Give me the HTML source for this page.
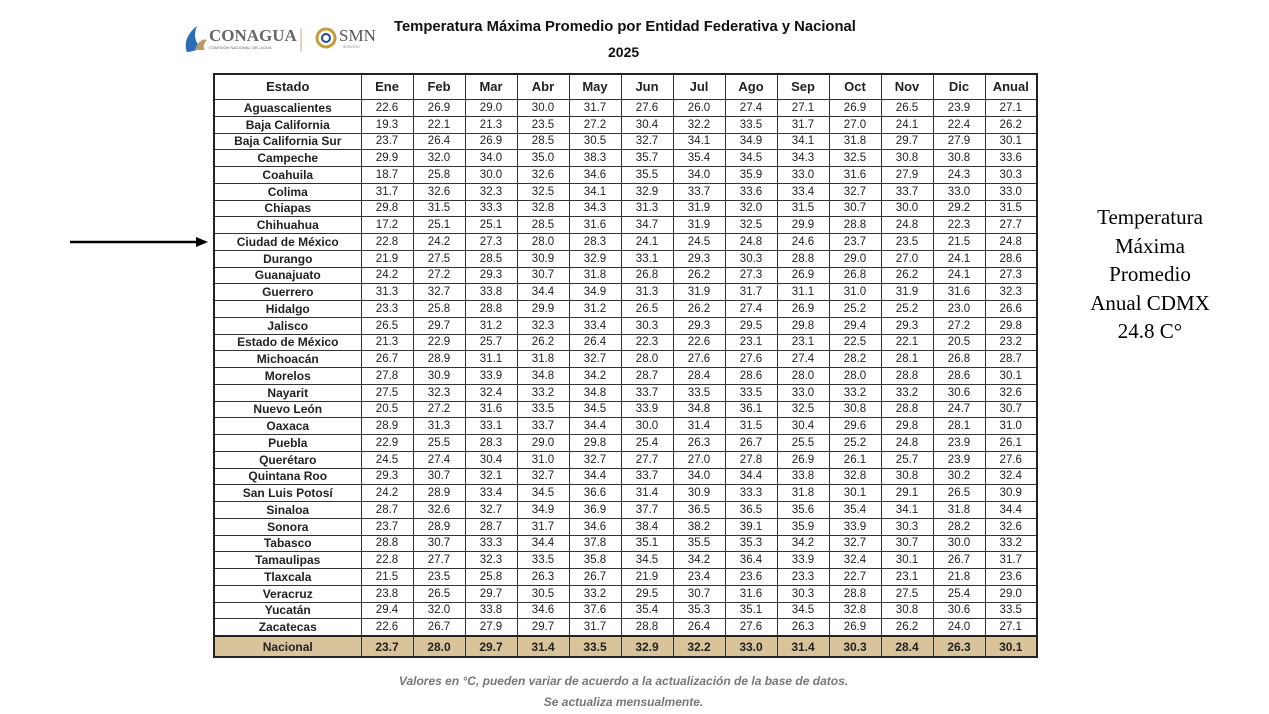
<!DOCTYPE html>
<html><head><meta charset="utf-8"><style>
body{margin:0;width:1269px;height:714px;background:#fff;position:relative;overflow:hidden;font-family:"Liberation Sans",sans-serif;}
table{position:absolute;left:213px;top:73px;width:822px;border-collapse:collapse;border:2px solid #222;table-layout:fixed;}
td,th{border:1px solid #333;padding:0;text-align:center;font-size:11.5px;color:#222;line-height:14px;overflow:hidden;white-space:nowrap}
th{height:24px;font-size:13px;font-weight:bold;}
td{height:15.75px;}
td:first-child{font-weight:bold;font-size:12px;}
tr.n td{background:#d9c39a;font-weight:bold;height:19px;font-size:12px;}
tr.n td,tr.n{border-top:2px solid #222}
.t{position:absolute;left:394px;top:19px;font-weight:bold;font-size:14.8px;color:#111}
.y{position:absolute;left:608px;top:44px;font-weight:bold;font-size:14px;color:#111}
.side{position:absolute;left:1065px;top:203px;width:170px;text-align:center;font-family:"Liberation Serif",serif;font-size:21px;line-height:28.5px;color:#000}
.foot{position:absolute;left:0;width:1247px;text-align:center;font-style:italic;font-weight:bold;font-size:12px;color:#777}
</style></head><body>
<svg style="position:absolute;left:183px;top:24px" width="210" height="32">
<path d="M4 28 C0 18 6 8 14 2 C10 12 12 20 20 24 C14 26 8 28 4 28Z" fill="#2a6fb5"/>
<path d="M12 26 C14 18 20 14 24 16 C20 20 20 24 22 26Z" fill="#b99a6a"/>
<text x="26" y="17" font-family="Liberation Serif" font-size="17" font-weight="bold" fill="#666">CONAGUA</text>
<text x="26" y="25" font-size="4" fill="#666">COMISIÓN NACIONAL DEL AGUA</text>
<line x1="118" y1="4" x2="118" y2="28" stroke="#c9a878" stroke-width="1"/>
<circle cx="143" cy="14" r="9" fill="none" stroke="#c99a3a" stroke-width="3"/>
<circle cx="143" cy="14" r="4" fill="none" stroke="#234a8c" stroke-width="2"/>
<text x="156" y="17" font-family="Liberation Serif" font-size="17" fill="#555">SMN</text>
<text x="160" y="24" font-size="3.5" fill="#888">SERVICIO</text>
</svg>
<div class="t">Temperatura Máxima Promedio por Entidad Federativa y Nacional</div>
<div class="y">2025</div>
<svg style="position:absolute;left:70px;top:236px" width="140" height="12"><line x1="0" y1="6" x2="128" y2="6" stroke="#000" stroke-width="2.5"/><polygon points="138,6 126,1 126,11" fill="#000"/></svg>
<div class="side">Temperatura<br>Máxima<br>Promedio<br>Anual CDMX<br>24.8 C°</div>
<table>
<colgroup><col style="width:147px"><col span="13" style="width:52px"></colgroup>
<tr><th>Estado</th><th>Ene</th><th>Feb</th><th>Mar</th><th>Abr</th><th>May</th><th>Jun</th><th>Jul</th><th>Ago</th><th>Sep</th><th>Oct</th><th>Nov</th><th>Dic</th><th>Anual</th></tr>
<tr><td>Aguascalientes</td><td>22.6</td><td>26.9</td><td>29.0</td><td>30.0</td><td>31.7</td><td>27.6</td><td>26.0</td><td>27.4</td><td>27.1</td><td>26.9</td><td>26.5</td><td>23.9</td><td>27.1</td></tr>
<tr><td>Baja California</td><td>19.3</td><td>22.1</td><td>21.3</td><td>23.5</td><td>27.2</td><td>30.4</td><td>32.2</td><td>33.5</td><td>31.7</td><td>27.0</td><td>24.1</td><td>22.4</td><td>26.2</td></tr>
<tr><td>Baja California Sur</td><td>23.7</td><td>26.4</td><td>26.9</td><td>28.5</td><td>30.5</td><td>32.7</td><td>34.1</td><td>34.9</td><td>34.1</td><td>31.8</td><td>29.7</td><td>27.9</td><td>30.1</td></tr>
<tr><td>Campeche</td><td>29.9</td><td>32.0</td><td>34.0</td><td>35.0</td><td>38.3</td><td>35.7</td><td>35.4</td><td>34.5</td><td>34.3</td><td>32.5</td><td>30.8</td><td>30.8</td><td>33.6</td></tr>
<tr><td>Coahuila</td><td>18.7</td><td>25.8</td><td>30.0</td><td>32.6</td><td>34.6</td><td>35.5</td><td>34.0</td><td>35.9</td><td>33.0</td><td>31.6</td><td>27.9</td><td>24.3</td><td>30.3</td></tr>
<tr><td>Colima</td><td>31.7</td><td>32.6</td><td>32.3</td><td>32.5</td><td>34.1</td><td>32.9</td><td>33.7</td><td>33.6</td><td>33.4</td><td>32.7</td><td>33.7</td><td>33.0</td><td>33.0</td></tr>
<tr><td>Chiapas</td><td>29.8</td><td>31.5</td><td>33.3</td><td>32.8</td><td>34.3</td><td>31.3</td><td>31.9</td><td>32.0</td><td>31.5</td><td>30.7</td><td>30.0</td><td>29.2</td><td>31.5</td></tr>
<tr><td>Chihuahua</td><td>17.2</td><td>25.1</td><td>25.1</td><td>28.5</td><td>31.6</td><td>34.7</td><td>31.9</td><td>32.5</td><td>29.9</td><td>28.8</td><td>24.8</td><td>22.3</td><td>27.7</td></tr>
<tr><td>Ciudad de México</td><td>22.8</td><td>24.2</td><td>27.3</td><td>28.0</td><td>28.3</td><td>24.1</td><td>24.5</td><td>24.8</td><td>24.6</td><td>23.7</td><td>23.5</td><td>21.5</td><td>24.8</td></tr>
<tr><td>Durango</td><td>21.9</td><td>27.5</td><td>28.5</td><td>30.9</td><td>32.9</td><td>33.1</td><td>29.3</td><td>30.3</td><td>28.8</td><td>29.0</td><td>27.0</td><td>24.1</td><td>28.6</td></tr>
<tr><td>Guanajuato</td><td>24.2</td><td>27.2</td><td>29.3</td><td>30.7</td><td>31.8</td><td>26.8</td><td>26.2</td><td>27.3</td><td>26.9</td><td>26.8</td><td>26.2</td><td>24.1</td><td>27.3</td></tr>
<tr><td>Guerrero</td><td>31.3</td><td>32.7</td><td>33.8</td><td>34.4</td><td>34.9</td><td>31.3</td><td>31.9</td><td>31.7</td><td>31.1</td><td>31.0</td><td>31.9</td><td>31.6</td><td>32.3</td></tr>
<tr><td>Hidalgo</td><td>23.3</td><td>25.8</td><td>28.8</td><td>29.9</td><td>31.2</td><td>26.5</td><td>26.2</td><td>27.4</td><td>26.9</td><td>25.2</td><td>25.2</td><td>23.0</td><td>26.6</td></tr>
<tr><td>Jalisco</td><td>26.5</td><td>29.7</td><td>31.2</td><td>32.3</td><td>33.4</td><td>30.3</td><td>29.3</td><td>29.5</td><td>29.8</td><td>29.4</td><td>29.3</td><td>27.2</td><td>29.8</td></tr>
<tr><td>Estado de México</td><td>21.3</td><td>22.9</td><td>25.7</td><td>26.2</td><td>26.4</td><td>22.3</td><td>22.6</td><td>23.1</td><td>23.1</td><td>22.5</td><td>22.1</td><td>20.5</td><td>23.2</td></tr>
<tr><td>Michoacán</td><td>26.7</td><td>28.9</td><td>31.1</td><td>31.8</td><td>32.7</td><td>28.0</td><td>27.6</td><td>27.6</td><td>27.4</td><td>28.2</td><td>28.1</td><td>26.8</td><td>28.7</td></tr>
<tr><td>Morelos</td><td>27.8</td><td>30.9</td><td>33.9</td><td>34.8</td><td>34.2</td><td>28.7</td><td>28.4</td><td>28.6</td><td>28.0</td><td>28.0</td><td>28.8</td><td>28.6</td><td>30.1</td></tr>
<tr><td>Nayarit</td><td>27.5</td><td>32.3</td><td>32.4</td><td>33.2</td><td>34.8</td><td>33.7</td><td>33.5</td><td>33.5</td><td>33.0</td><td>33.2</td><td>33.2</td><td>30.6</td><td>32.6</td></tr>
<tr><td>Nuevo León</td><td>20.5</td><td>27.2</td><td>31.6</td><td>33.5</td><td>34.5</td><td>33.9</td><td>34.8</td><td>36.1</td><td>32.5</td><td>30.8</td><td>28.8</td><td>24.7</td><td>30.7</td></tr>
<tr><td>Oaxaca</td><td>28.9</td><td>31.3</td><td>33.1</td><td>33.7</td><td>34.4</td><td>30.0</td><td>31.4</td><td>31.5</td><td>30.4</td><td>29.6</td><td>29.8</td><td>28.1</td><td>31.0</td></tr>
<tr><td>Puebla</td><td>22.9</td><td>25.5</td><td>28.3</td><td>29.0</td><td>29.8</td><td>25.4</td><td>26.3</td><td>26.7</td><td>25.5</td><td>25.2</td><td>24.8</td><td>23.9</td><td>26.1</td></tr>
<tr><td>Querétaro</td><td>24.5</td><td>27.4</td><td>30.4</td><td>31.0</td><td>32.7</td><td>27.7</td><td>27.0</td><td>27.8</td><td>26.9</td><td>26.1</td><td>25.7</td><td>23.9</td><td>27.6</td></tr>
<tr><td>Quintana Roo</td><td>29.3</td><td>30.7</td><td>32.1</td><td>32.7</td><td>34.4</td><td>33.7</td><td>34.0</td><td>34.4</td><td>33.8</td><td>32.8</td><td>30.8</td><td>30.2</td><td>32.4</td></tr>
<tr><td>San Luis Potosí</td><td>24.2</td><td>28.9</td><td>33.4</td><td>34.5</td><td>36.6</td><td>31.4</td><td>30.9</td><td>33.3</td><td>31.8</td><td>30.1</td><td>29.1</td><td>26.5</td><td>30.9</td></tr>
<tr><td>Sinaloa</td><td>28.7</td><td>32.6</td><td>32.7</td><td>34.9</td><td>36.9</td><td>37.7</td><td>36.5</td><td>36.5</td><td>35.6</td><td>35.4</td><td>34.1</td><td>31.8</td><td>34.4</td></tr>
<tr><td>Sonora</td><td>23.7</td><td>28.9</td><td>28.7</td><td>31.7</td><td>34.6</td><td>38.4</td><td>38.2</td><td>39.1</td><td>35.9</td><td>33.9</td><td>30.3</td><td>28.2</td><td>32.6</td></tr>
<tr><td>Tabasco</td><td>28.8</td><td>30.7</td><td>33.3</td><td>34.4</td><td>37.8</td><td>35.1</td><td>35.5</td><td>35.3</td><td>34.2</td><td>32.7</td><td>30.7</td><td>30.0</td><td>33.2</td></tr>
<tr><td>Tamaulipas</td><td>22.8</td><td>27.7</td><td>32.3</td><td>33.5</td><td>35.8</td><td>34.5</td><td>34.2</td><td>36.4</td><td>33.9</td><td>32.4</td><td>30.1</td><td>26.7</td><td>31.7</td></tr>
<tr><td>Tlaxcala</td><td>21.5</td><td>23.5</td><td>25.8</td><td>26.3</td><td>26.7</td><td>21.9</td><td>23.4</td><td>23.6</td><td>23.3</td><td>22.7</td><td>23.1</td><td>21.8</td><td>23.6</td></tr>
<tr><td>Veracruz</td><td>23.8</td><td>26.5</td><td>29.7</td><td>30.5</td><td>33.2</td><td>29.5</td><td>30.7</td><td>31.6</td><td>30.3</td><td>28.8</td><td>27.5</td><td>25.4</td><td>29.0</td></tr>
<tr><td>Yucatán</td><td>29.4</td><td>32.0</td><td>33.8</td><td>34.6</td><td>37.6</td><td>35.4</td><td>35.3</td><td>35.1</td><td>34.5</td><td>32.8</td><td>30.8</td><td>30.6</td><td>33.5</td></tr>
<tr><td>Zacatecas</td><td>22.6</td><td>26.7</td><td>27.9</td><td>29.7</td><td>31.7</td><td>28.8</td><td>26.4</td><td>27.6</td><td>26.3</td><td>26.9</td><td>26.2</td><td>24.0</td><td>27.1</td></tr>
<tr class="n"><td>Nacional</td><td>23.7</td><td>28.0</td><td>29.7</td><td>31.4</td><td>33.5</td><td>32.9</td><td>32.2</td><td>33.0</td><td>31.4</td><td>30.3</td><td>28.4</td><td>26.3</td><td>30.1</td></tr>
</table>
<div class="foot" style="top:674px">Valores en °C, pueden variar de acuerdo a la actualización de la base de datos.</div>
<div class="foot" style="top:695px">Se actualiza mensualmente.</div>
</body></html>
